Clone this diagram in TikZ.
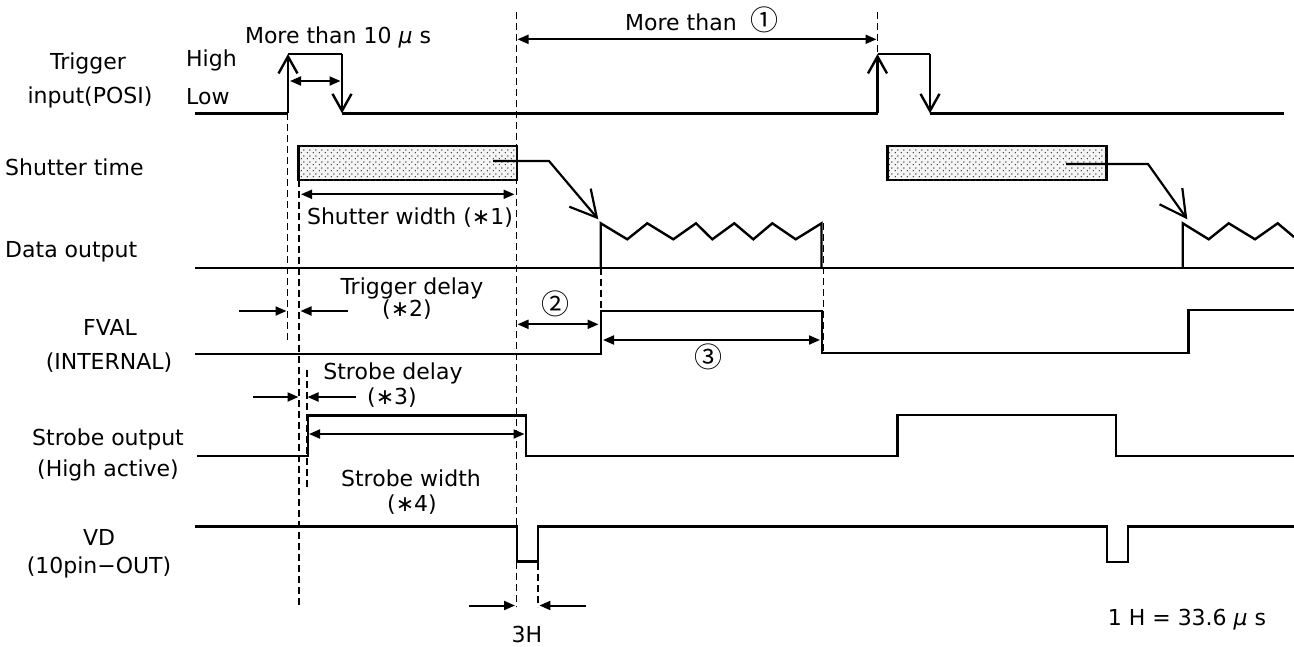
\documentclass[tikz,border=0pt]{standalone}
\usepackage{fontspec}
\setmainfont{DejaVu Sans}
\newfontfamily\cjkfont{Noto Sans CJK JP}
\usetikzlibrary{arrows.meta,patterns}
\pgfdeclarepatternformonly{shutterdots}{\pgfqpoint{0pt}{0pt}}{\pgfqpoint{6pt}{6pt}}{\pgfqpoint{6pt}{6pt}}{%
  \pgfpathcircle{\pgfqpoint{1.5pt}{1.5pt}}{0.8pt}%
  \pgfpathcircle{\pgfqpoint{4.5pt}{4.5pt}}{0.8pt}%
  \pgfusepath{fill}}
\tikzset{
  sig/.style={line width=2.4pt},
  guide/.style={line width=1.8pt, dash pattern=on 7pt off 4pt},
  dimarrow/.style={line width=2pt, {Triangle[length=11pt,width=9pt]}-{Triangle[length=11pt,width=9pt]}},
  onearrow/.style={line width=2pt, -{Triangle[length=11pt,width=9pt]}},
  sigedge/.style={line width=2.4pt, -{Straight Barb[length=17pt,width=19pt]}},
  barbarrow/.style={line width=2.2pt, -{Straight Barb[length=26pt,width=28pt]}},
  lbl/.style={font=\fontsize{22pt}{26pt}\selectfont, inner sep=0pt},
  circ/.style={font=\cjkfont\fontsize{28pt}{32pt}\selectfont, inner sep=0pt},
  shutterbox/.style={line width=2.4pt, fill=gray!8, postaction={pattern=shutterdots, pattern color=black!80}},
}
\begin{document}
\begin{tikzpicture}[x=1pt,y=-1pt]
\useasboundingbox (0,0) rectangle (1294,646);
\fill[white] (0,0) rectangle (1294,646);

% ---------- left labels ----------
\node[lbl] (ltrig1) at (88,63) {Trigger};
\node[lbl] (ltrig2) at (90,97) {input(POSI)};
\node[lbl,anchor=west] (lhigh) at (186,60) {High};
\node[lbl,anchor=west] (llow) at (186,97) {Low};
\node[lbl,anchor=west] (lshut) at (5,167) {Shutter time};
\node[lbl,anchor=west] (ldata) at (5,252) {Data output};
\node[lbl] (lfval1) at (110,327) {FVAL};
\node[lbl] (lfval2) at (109,363) {(INTERNAL)};
\node[lbl] (lstr1) at (108,439) {Strobe output};
\node[lbl] (lstr2) at (108,470) {(High active)};
\node[lbl] (lvd1) at (99,537) {VD};
\node[lbl] (lvd2) at (99,567) {(10pin−OUT)};

% ---------- guide lines ----------
\draw[guide] (287.5,113) -- (287.5,342);
\draw[guide] (299.3,180) -- (299.3,608);
\draw[guide] (306.7,370) -- (306.7,490);
\draw[guide] (516.5,12) -- (516.5,607);
\draw[guide] (877.5,12) -- (877.5,54);
\draw[guide] (537.7,563) -- (537.7,607);
\draw[guide] (601,268) -- (601,311);
\draw[guide] (823.5,223) -- (823.5,353);

% ---------- trigger ----------
\draw[sig] (195,113.3) -- (288,113.3);
\draw[sigedge] (288,113.3) -- (288,54);
\draw[sig] (288,54) -- (342,54);
\draw[sigedge] (342,54) -- (342,113.3);
\draw[sig] (342,113.3) -- (877.5,113.3);
\draw[sigedge] (877.5,113.3) -- (877.5,54);
\draw[sig] (877.5,54) -- (930,54);
\draw[sigedge] (930,54) -- (930,113.3);
\draw[sig] (930,113.3) -- (1284,113.3);

\draw[dimarrow] (290,81) -- (340.5,81);
\node[lbl] (t10us) at (338,37) {More than 10 {\itshape μ} s};
\draw[dimarrow] (517.5,39.3) -- (876.5,39.3);
\node[lbl,anchor=base west] (tmore1) at (625,30) {More than\hspace{14pt}{\cjkfont\fontsize{28pt}{32pt}\selectfont ①}};

% ---------- shutter ----------
\draw[shutterbox] (298.3,146) rectangle (516.7,180);
\draw[shutterbox] (887.3,146) rectangle (1106.3,180);
\draw[barbarrow] (493,161) -- (549,161) -- (598.3,219.3);
\draw[barbarrow] (1066,164) -- (1148,164) -- (1187.3,219.3);
\draw[dimarrow] (301,194.3) -- (514.5,194.3);
\node[lbl] (tshutw) at (410,218) {Shutter width (∗1)};

% ---------- data output ----------
\draw[sig] (195,267.7) -- (1294,267.7);
\draw[sig] (600.7,267.7) -- (600.7,223.3) -- (627.3,239.3) -- (647.3,223.3) -- (673.3,239.3)
  -- (696,223.3) -- (712.3,239.3) -- (734.3,223.3) -- (753.3,239.3) -- (772.3,223.3)
  -- (795.7,239.3) -- (821.5,223.3) -- (821.5,267.7);
\draw[sig] (1182.7,267.7) -- (1182.7,223.3) -- (1208.7,239.3) -- (1228.7,223.3) -- (1255,239.3)
  -- (1277.7,223.3) -- (1294,237);

% ---------- FVAL ----------
\draw[sig] (195,354) -- (600.7,354) -- (600.7,310.7) -- (821.7,310.7) -- (821.7,353)
  -- (1188.3,353) -- (1188.3,310) -- (1294,310);
\node[lbl] (ttrigd1) at (412,288) {Trigger delay};
\node[lbl] (ttrigd2) at (407,310) {(∗2)};
\draw[onearrow] (239,311) -- (286.5,311);
\draw[onearrow] (348,311) -- (300.5,311);
\draw[dimarrow] (517.5,324.3) -- (598.5,324.3);
\node[circ] (tc2) at (555,304) {②};
\draw[dimarrow] (603,340) -- (820,340);
\node[circ] (tc3) at (708,357) {③};

% ---------- strobe ----------
\node[lbl] (tstrd1) at (393,373) {Strobe delay};
\node[lbl] (tstrd2) at (392,398) {(∗3)};
\draw[onearrow] (253,397) -- (298.5,397);
\draw[onearrow] (355.5,397) -- (307.5,397);
\draw[sig] (197,456) -- (307.7,456) -- (307.7,415.5) -- (526,415.5) -- (526,456)
  -- (897.3,456) -- (897.3,415) -- (1115.7,415) -- (1115.7,456) -- (1294,456);
\draw[dimarrow] (309,434) -- (524.5,434);
\node[lbl] (tstrw1) at (411,478) {Strobe width};
\node[lbl] (tstrw2) at (412,505) {(∗4)};

% ---------- VD ----------
\draw[sig] (195,526.5) -- (516.7,526.5) -- (516.7,561.5) -- (537.7,561.5) -- (537.7,526.5)
  -- (1106.7,526.5) -- (1106.7,561.7) -- (1127.7,561.7) -- (1127.7,526.5) -- (1294,526.5);
\draw[onearrow] (469,605.5) -- (515,605.5);
\draw[onearrow] (586.4,605.5) -- (539.4,605.5);
\node[lbl] (t3h) at (527,634) {3H};
\node[lbl] (t1h) at (1187,620) {1 H = 33.6 {\itshape μ} s};
\end{tikzpicture}
\end{document}
